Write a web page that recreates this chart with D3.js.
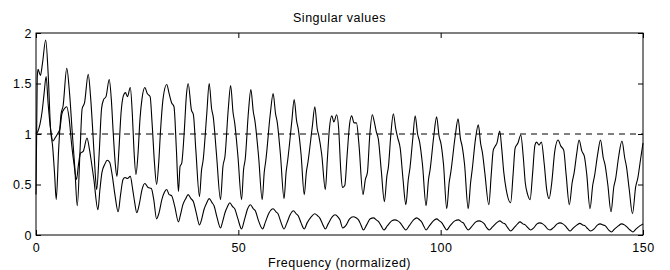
<!DOCTYPE html>
<html>
<head>
<meta charset="utf-8">
<script src="https://cdn.jsdelivr.net/npm/d3@7"></script>
<style>
  body { margin: 0; background: #fff; }
  text { font-family: "Liberation Sans", Arial, sans-serif; fill: #000; letter-spacing: 0.5px; }
</style>
</head>
<body>
<svg id="canvas" width="670" height="270"></svg>
<script>
// tick labels
const xTicks = [0, 50, 100, 150]
const yTicks = [0, 0.5, 1, 1.5, 2]
const refLevel = 1

// upper singular value, [frequency, value]
const upperCurve = [
  [0.0,0.40],[0.3,1.55],[0.5,1.64],[1.1,1.58],[1.6,1.70],[2.4,1.93],[3.0,1.60],[3.6,1.05],[4.1,0.88],[4.6,0.60],
  [5.0,0.35],[5.6,0.85],[6.2,1.20],[6.7,1.28],[7.6,1.65],[8.3,1.40],[9.0,0.99],[9.6,0.66],[10.2,0.29],[10.9,0.85],
  [11.4,1.25],[12.0,1.31],[12.9,1.59],[13.5,1.36],[14.1,0.98],[14.5,0.70],[15.0,0.45],[15.6,0.80],[16.2,1.25],[16.7,1.34],
  [17.3,1.37],[18.1,1.54],[18.6,1.35],[19.1,1.00],[19.6,0.70],[20.0,0.58],[20.5,0.85],[21.0,1.20],[21.6,1.38],[22.1,1.41],
  [22.6,1.37],[23.3,1.46],[23.8,1.20],[24.2,0.85],[24.7,0.60],[25.2,0.80],[25.7,1.15],[26.2,1.35],[26.9,1.46],[27.5,1.40],
  [28.2,1.37],[28.7,1.10],[29.3,0.70],[29.8,0.50],[30.3,0.70],[30.8,1.05],[31.4,1.35],[32.3,1.49],[32.9,1.40],[33.5,1.31],
  [34.1,1.27],[34.7,0.84],[35.2,0.43],[35.6,0.68],[36.0,0.71],[36.6,1.00],[37.2,1.40],[37.6,1.50],[38.4,1.24],[38.9,1.19],
  [39.5,0.84],[40.4,0.38],[40.9,0.64],[41.3,0.74],[42.2,1.20],[42.8,1.50],[43.4,1.25],[43.8,1.17],[44.6,0.80],[45.6,0.35],
  [46.2,0.68],[46.7,0.78],[47.5,1.24],[48.1,1.48],[48.7,1.21],[49.1,1.11],[49.9,0.78],[50.8,0.35],[51.3,0.65],[51.7,0.75],
  [52.5,1.22],[53.1,1.44],[53.7,1.22],[54.1,1.13],[55.0,0.78],[55.9,0.35],[56.4,0.62],[56.8,0.74],[57.9,1.20],[58.6,1.40],
  [59.2,1.20],[59.6,1.12],[60.4,0.80],[61.3,0.36],[61.8,0.62],[62.2,0.74],[63.2,1.12],[63.8,1.34],[64.4,1.13],[64.8,1.05],
  [65.5,0.80],[66.3,0.40],[66.8,0.62],[67.2,0.72],[68.3,1.08],[68.9,1.27],[69.5,1.05],[69.9,0.98],[70.6,0.80],[71.5,0.45],
  [72.0,0.75],[72.5,1.05],[73.1,1.18],[73.6,1.12],[74.3,1.19],[74.8,1.05],[75.3,0.65],[75.7,0.47],[76.3,0.49],[76.9,0.80],
  [77.5,1.10],[78.0,1.18],[78.6,1.11],[79.2,1.11],[79.8,0.90],[80.8,0.40],[81.4,0.55],[81.9,0.62],[82.5,1.00],[83.1,1.19],
  [83.6,1.12],[84.1,1.02],[84.6,0.95],[85.3,0.65],[86.1,0.33],[86.7,0.58],[87.1,0.68],[87.7,1.00],[88.3,1.20],[88.9,1.05],
  [89.4,0.96],[90.0,0.86],[90.7,0.55],[91.4,0.30],[92.0,0.55],[92.4,0.66],[93.1,0.95],[93.7,1.18],[94.3,1.00],[94.8,0.92],
  [95.5,0.70],[96.4,0.29],[97.0,0.55],[97.4,0.65],[98.3,0.98],[99.0,1.17],[99.6,0.98],[100.1,0.90],[100.7,0.70],[101.5,0.26],
  [102.1,0.52],[102.5,0.62],[103.6,0.98],[104.3,1.15],[104.9,0.95],[105.3,0.88],[105.9,0.70],[106.8,0.26],[107.4,0.52],[107.8,0.65],
  [108.6,0.95],[109.3,1.09],[109.9,0.90],[110.3,0.82],[110.9,0.62],[111.9,0.30],[112.5,0.60],[113.0,0.84],[113.5,0.88],[113.9,0.91],
  [114.6,1.03],[115.1,0.85],[115.6,0.62],[116.2,0.45],[117.3,0.32],[117.9,0.60],[118.4,0.86],[119.1,0.91],[119.8,0.99],[120.4,0.78],
  [120.9,0.52],[121.5,0.40],[122.1,0.35],[122.7,0.60],[123.3,0.89],[123.7,0.92],[124.3,0.89],[124.9,0.92],[125.6,0.70],[126.2,0.45],
  [126.8,0.36],[127.4,0.50],[128.2,0.83],[129.0,0.94],[129.7,0.88],[130.4,0.84],[131.0,0.60],[131.8,0.30],[132.5,0.52],[133.0,0.62],
  [133.6,0.80],[134.2,0.94],[134.9,0.83],[135.5,0.78],[136.1,0.60],[136.9,0.26],[137.6,0.50],[138.0,0.58],[138.8,0.80],[139.5,0.94],
  [140.2,0.76],[140.6,0.70],[141.3,0.50],[142.1,0.23],[142.8,0.48],[143.2,0.55],[144.0,0.78],[144.8,0.93],[145.5,0.76],[145.9,0.68],
  [146.6,0.45],[147.4,0.21],[148.2,0.48],[148.7,0.56],[149.4,0.75],[150.0,0.91]
]

// lower singular value, [frequency, value]
const lowerCurve = [
  [0.0,1.00],[0.5,1.03],[1.0,1.10],[1.5,1.22],[2.0,1.40],[2.5,1.57],[3.0,1.30],[3.6,1.05],[4.2,0.93],[4.7,0.96],
  [5.3,1.00],[5.9,1.05],[6.4,1.20],[7.0,1.25],[7.6,1.27],[8.2,1.15],[8.8,0.90],[9.4,0.70],[10.0,0.55],[10.5,0.70],
  [11.0,0.81],[11.7,0.83],[12.6,0.96],[13.2,0.85],[13.7,0.72],[14.3,0.55],[15.3,0.25],[15.8,0.45],[16.3,0.62],[17.0,0.70],
  [17.6,0.74],[18.2,0.72],[18.8,0.60],[19.5,0.40],[20.3,0.23],[20.9,0.40],[21.5,0.55],[22.0,0.57],[22.6,0.56],[23.3,0.58],
  [23.9,0.45],[24.4,0.32],[24.9,0.22],[25.5,0.30],[26.2,0.45],[26.9,0.51],[27.7,0.47],[28.5,0.46],[29.1,0.35],[29.8,0.16],
  [30.4,0.22],[31.1,0.35],[31.7,0.42],[32.3,0.45],[32.9,0.40],[33.5,0.39],[34.3,0.28],[35.2,0.13],[35.7,0.20],[36.3,0.30],
  [37.0,0.36],[37.6,0.40],[38.3,0.36],[38.9,0.33],[39.6,0.22],[40.4,0.10],[40.9,0.15],[41.5,0.25],[42.2,0.32],[42.8,0.36],
  [43.5,0.32],[44.0,0.29],[44.7,0.18],[45.6,0.07],[46.1,0.13],[46.7,0.22],[47.3,0.28],[47.9,0.32],[48.6,0.28],[49.1,0.26],
  [49.9,0.16],[50.8,0.06],[51.5,0.15],[52.3,0.26],[53.0,0.30],[53.7,0.26],[54.2,0.24],[55.0,0.14],[56.0,0.06],[56.7,0.13],
  [57.6,0.22],[58.6,0.26],[59.3,0.23],[59.8,0.21],[60.5,0.13],[61.3,0.06],[62.0,0.12],[62.8,0.20],[63.6,0.24],[64.3,0.21],
  [64.8,0.19],[65.5,0.12],[66.3,0.06],[67.0,0.12],[68.0,0.18],[68.9,0.21],[69.6,0.19],[70.1,0.17],[70.8,0.11],[71.5,0.06],
  [72.2,0.11],[73.2,0.18],[73.9,0.20],[74.6,0.18],[75.1,0.15],[75.8,0.07],[76.5,0.09],[77.5,0.16],[78.4,0.18],[79.1,0.17],
  [79.7,0.15],[80.3,0.10],[80.9,0.05],[81.7,0.10],[82.6,0.16],[83.4,0.17],[84.1,0.15],[84.7,0.13],[85.3,0.09],[86.0,0.05],
  [86.8,0.09],[87.9,0.14],[88.7,0.15],[89.4,0.14],[90.0,0.12],[90.7,0.08],[91.4,0.05],[92.2,0.09],[93.3,0.15],[94.1,0.17],
  [94.8,0.15],[95.3,0.13],[95.8,0.09],[96.4,0.05],[97.2,0.09],[98.2,0.14],[99.0,0.16],[99.7,0.14],[100.3,0.12],[100.9,0.08],
  [101.5,0.05],[102.3,0.09],[103.5,0.14],[104.4,0.15],[105.1,0.13],[105.6,0.12],[106.2,0.08],[106.8,0.05],[107.6,0.08],[108.7,0.13],
  [109.5,0.14],[110.2,0.13],[110.8,0.11],[111.4,0.07],[112.0,0.05],[112.8,0.08],[113.8,0.12],[114.6,0.14],[115.3,0.12],[115.9,0.11],
  [116.6,0.07],[117.3,0.04],[118.1,0.07],[119.0,0.11],[119.6,0.13],[120.3,0.11],[120.9,0.10],[121.6,0.07],[122.2,0.05],[123.0,0.07],
  [123.8,0.11],[124.5,0.12],[125.2,0.11],[125.8,0.09],[126.4,0.06],[127.0,0.05],[127.8,0.07],[128.8,0.11],[129.5,0.12],[130.2,0.11],
  [130.8,0.09],[131.4,0.06],[132.0,0.04],[132.8,0.07],[133.7,0.10],[134.4,0.115],[135.1,0.10],[135.7,0.09],[136.4,0.06],[137.1,0.04],
  [137.9,0.06],[138.8,0.10],[139.4,0.11],[140.1,0.10],[140.7,0.09],[141.5,0.05],[142.2,0.03],[143.0,0.06],[143.9,0.09],[144.7,0.11],
  [145.4,0.10],[146.0,0.08],[146.8,0.05],[147.5,0.03],[148.3,0.06],[149.2,0.09],[150.0,0.11]
]

const margin = {top: 33, right: 27, bottom: 35, left: 36}
const W = 670, H = 270
const w = W - margin.left - margin.right
const h = H - margin.top - margin.bottom
const fontSize = "12.5px"

let canvas = d3.select("#canvas")
let g = canvas.append("g").attr("transform", `translate(${margin.left},${margin.top})`)

const x = d3.scaleLinear().domain([0, 150]).range([0, w])
const y = d3.scaleLinear().domain([0, 2]).range([h, 0])

// axes with inward ticks, mirrored on top / right like matlab
const styleAxis = sel => {
  sel.select(".domain").remove()
  sel.selectAll("line").attr("stroke", "#000")
  sel.selectAll("text").style("font-size", fontSize).attr("fill", "#000")
}
g.append("g").attr("transform", `translate(0,${h})`)
  .call(d3.axisBottom(x).tickValues(xTicks).tickSize(-5).tickPadding(8))
  .call(styleAxis)
g.append("g")
  .call(d3.axisTop(x).tickValues(xTicks).tickSize(-5).tickFormat(""))
  .call(styleAxis)
g.append("g")
  .call(d3.axisLeft(y).tickValues(yTicks).tickSize(-5).tickPadding(4).tickFormat(d3.format("~g")))
  .call(styleAxis)
g.append("g").attr("transform", `translate(${w},0)`)
  .call(d3.axisRight(y).tickValues(yTicks).tickSize(-5).tickFormat(""))
  .call(styleAxis)

// box
g.append("rect").attr("width", w).attr("height", h)
  .attr("fill", "none").attr("stroke", "#000").attr("stroke-width", 1)

// dashed reference line
g.append("line")
  .attr("x1", x(0)).attr("x2", x(150))
  .attr("y1", y(refLevel)).attr("y2", y(refLevel))
  .attr("stroke", "#000").attr("stroke-dasharray", "6,5")

const line = d3.line()
  .x(d => x(d[0]))
  .y(d => y(d[1]))
  .curve(d3.curveMonotoneX)

g.selectAll(".sv")
  .data([upperCurve, lowerCurve])
  .enter()
  .append("path")
  .attr("class", "sv")
  .attr("d", line)
  .attr("fill", "none")
  .attr("stroke", "#000")
  .attr("stroke-width", 1.1)

canvas.append("text")
  .attr("x", margin.left + w / 2).attr("y", 22)
  .attr("text-anchor", "middle").style("font-size", fontSize)
  .text("Singular values")

canvas.append("text")
  .attr("x", margin.left + w / 2).attr("y", 267)
  .attr("text-anchor", "middle").style("font-size", fontSize)
  .text("Frequency (normalized)")
</script>
</body>
</html>
